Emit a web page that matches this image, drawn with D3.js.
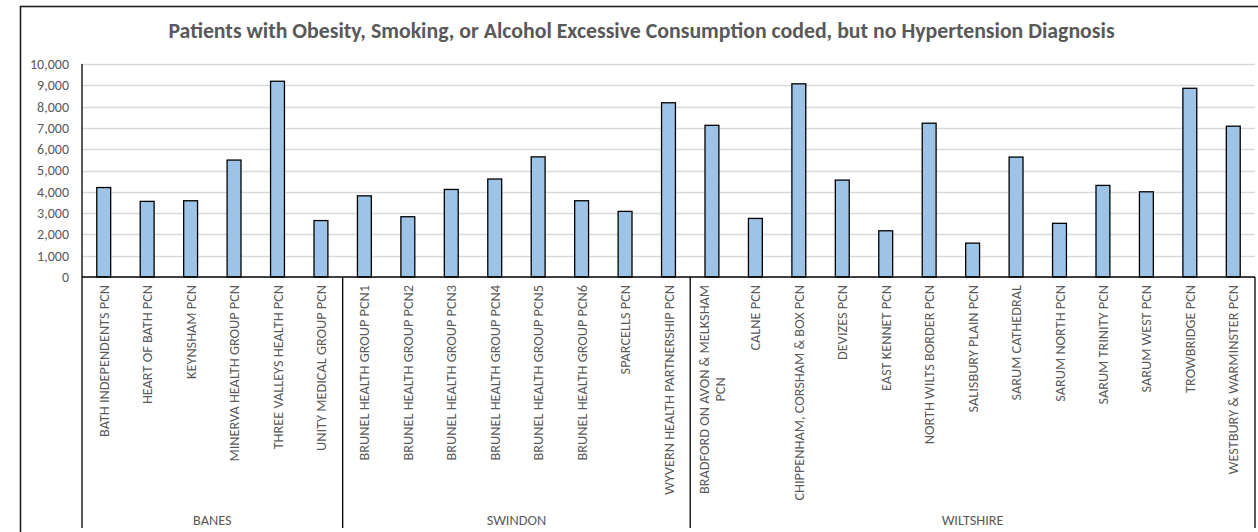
<!DOCTYPE html>
<html>
<head>
<meta charset="utf-8">
<script src="https://cdn.jsdelivr.net/npm/d3@7"></script>
<style>
  body { margin: 0; background: #fff; }
  svg { display: block; font-family: Carlito, Lato, sans-serif; }
</style>
</head>
<body>
<svg id="chart" width="1258" height="532"></svg>
<script>
const title = "Patients with Obesity, Smoking, or Alcohol Excessive Consumption coded, but no Hypertension Diagnosis";

const groups = ["BANES", "SWINDON", "WILTSHIRE"];

const categories = [
  "BATH INDEPENDENTS PCN", "HEART OF BATH PCN", "KEYNSHAM PCN", "MINERVA HEALTH GROUP PCN",
  "THREE VALLEYS HEALTH PCN", "UNITY MEDICAL GROUP PCN",
  "BRUNEL HEALTH GROUP PCN1", "BRUNEL HEALTH GROUP PCN2", "BRUNEL HEALTH GROUP PCN3",
  "BRUNEL HEALTH GROUP PCN4", "BRUNEL HEALTH GROUP PCN5", "BRUNEL HEALTH GROUP PCN6",
  "SPARCELLS PCN", "WYVERN HEALTH PARTNERSHIP PCN",
  "BRADFORD ON AVON & MELKSHAM|PCN", "CALNE PCN", "CHIPPENHAM, CORSHAM & BOX PCN", "DEVIZES PCN",
  "EAST KENNET PCN", "NORTH WILTS BORDER PCN", "SALISBURY PLAIN PCN", "SARUM CATHEDRAL",
  "SARUM NORTH PCN", "SARUM TRINITY PCN", "SARUM WEST PCN", "TROWBRIDGE PCN", "WESTBURY & WARMINSTER PCN"
];

const categoryGroup = [
  "BANES", "BANES", "BANES", "BANES", "BANES", "BANES",
  "SWINDON", "SWINDON", "SWINDON", "SWINDON", "SWINDON", "SWINDON", "SWINDON", "SWINDON",
  "WILTSHIRE", "WILTSHIRE", "WILTSHIRE", "WILTSHIRE", "WILTSHIRE", "WILTSHIRE", "WILTSHIRE",
  "WILTSHIRE", "WILTSHIRE", "WILTSHIRE", "WILTSHIRE", "WILTSHIRE", "WILTSHIRE"
];

const values = [
  4200, 3550, 3580, 5490, 9190, 2650,
  3810, 2830, 4110, 4600, 5640, 3580, 3080, 8180,
  7120, 2750, 9070, 4550, 2170, 7220, 1590, 5630, 2520, 4300, 4000, 8860, 7080
];

const yTicks = [0, 1000, 2000, 3000, 4000, 5000, 6000, 7000, 8000, 9000, 10000];

const svg = d3.select("#chart");
const grey = "#595959";

const plotLeft = 82, plotRight = 1255, plotTop = 64, zero = 277, axisBottom = 528;

const x = d3.scaleBand()
  .domain(categories)
  .range([plotLeft, plotRight])
  .paddingInner(0.68)
  .paddingOuter(0.34);

const y = d3.scaleLinear()
  .domain([0, 10000])
  .range([zero, plotTop]);

// chart outer border (cropped on the right and bottom)
svg.append("rect")
  .attr("x", 20.5).attr("y", 6.5)
  .attr("width", 1300).attr("height", 600)
  .attr("fill", "#fff")
  .attr("stroke", "#222")
  .attr("stroke-width", 1.6);

// size a font so a sample string reaches a target width
function fitSize(text, weight, target) {
  const t = svg.append("text").attr("font-size", 20).attr("font-weight", weight).text(text);
  const w = t.node().getComputedTextLength();
  t.remove();
  return 20 * target / w;
}

const titleSize = fitSize(title, "bold", 947);
const tickSize = fitSize("10,000", "normal", 39);
const labelSize = fitSize("BATH INDEPENDENTS PCN", "normal", 152);

svg.append("text")
  .attr("x", 641.5).attr("y", 38)
  .attr("text-anchor", "middle")
  .attr("font-weight", "bold")
  .attr("font-size", titleSize)
  .attr("fill", grey)
  .text(title);

// gridlines
svg.append("g")
  .selectAll("line")
  .data(yTicks.filter(d => d > 0))
  .join("line")
  .attr("x1", plotLeft).attr("x2", plotRight)
  .attr("y1", d => Math.round(y(d)) + 0.5)
  .attr("y2", d => Math.round(y(d)) + 0.5)
  .attr("stroke", "#d9d9d9")
  .attr("stroke-width", 1.3);

// y axis
const yAxis = svg.append("g")
  .attr("transform", `translate(${plotLeft},0)`)
  .call(d3.axisLeft(y).tickValues(yTicks).tickFormat(d3.format(",")).tickSize(0).tickPadding(13));
yAxis.select(".domain").remove();
yAxis.selectAll("text")
  .attr("font-size", tickSize)
  .attr("font-family", "Carlito, Lato, sans-serif")
  .attr("fill", grey);

// bars
svg.append("g")
  .selectAll("rect")
  .data(values)
  .join("rect")
  .attr("x", (d, i) => x(categories[i]))
  .attr("y", d => y(d))
  .attr("width", x.bandwidth())
  .attr("height", d => y(0) - y(d))
  .attr("fill", "#9dc3e6")
  .attr("stroke", "#000")
  .attr("stroke-width", 1.3);

// axis lines
svg.append("line")
  .attr("x1", plotLeft).attr("x2", plotRight)
  .attr("y1", zero).attr("y2", zero)
  .attr("stroke", "#000").attr("stroke-width", 1.3);
svg.append("line")
  .attr("x1", plotLeft).attr("x2", plotLeft)
  .attr("y1", plotTop).attr("y2", axisBottom)
  .attr("stroke", "#000").attr("stroke-width", 1.3);

// group separators
const groupStart = groups.map(g => categoryGroup.indexOf(g));
const groupEnd = groups.map(g => categoryGroup.lastIndexOf(g));
const sepX = groupEnd.map(i => x(categories[i]) - x.paddingOuter() * x.step() + x.step());
svg.append("g")
  .selectAll("line")
  .data(sepX)
  .join("line")
  .attr("x1", d => d).attr("x2", d => d)
  .attr("y1", zero).attr("y2", axisBottom)
  .attr("stroke", "#000").attr("stroke-width", 1.3);

// category labels
const labels = svg.append("g")
  .selectAll("g")
  .data(categories)
  .join("g")
  .attr("transform", d => `translate(${x(d) + x.bandwidth() / 2},285) rotate(-90)`);

labels.each(function (d) {
  const g = d3.select(this);
  const lines = d.split("|");
  if (lines.length === 1) {
    g.append("text")
      .attr("text-anchor", "end")
      .attr("dy", "0.35em")
      .attr("font-size", labelSize)
      .attr("fill", grey)
      .text(d);
  } else {
    const texts = lines.map((l, i) => g.append("text")
      .attr("text-anchor", "middle")
      .attr("y", (i - (lines.length - 1) / 2) * 16.5)
      .attr("dy", "0.35em")
      .attr("font-size", labelSize)
      .attr("fill", grey)
      .text(l));
    const w = d3.max(texts, t => t.node().getComputedTextLength());
    texts.forEach(t => t.attr("x", -w / 2));
  }
});

// group labels
svg.append("g")
  .selectAll("text")
  .data(groups)
  .join("text")
  .attr("x", (g, i) => {
    const a = x(categories[groupStart[i]]) - x.paddingInner() * x.step() / 2;
    const b = x(categories[groupEnd[i]]) + x.bandwidth() + x.paddingInner() * x.step() / 2;
    return (a + b) / 2;
  })
  .attr("y", 525)
  .attr("text-anchor", "middle")
  .attr("font-size", labelSize)
  .attr("fill", grey)
  .text(d => d);
</script>
</body>
</html>
